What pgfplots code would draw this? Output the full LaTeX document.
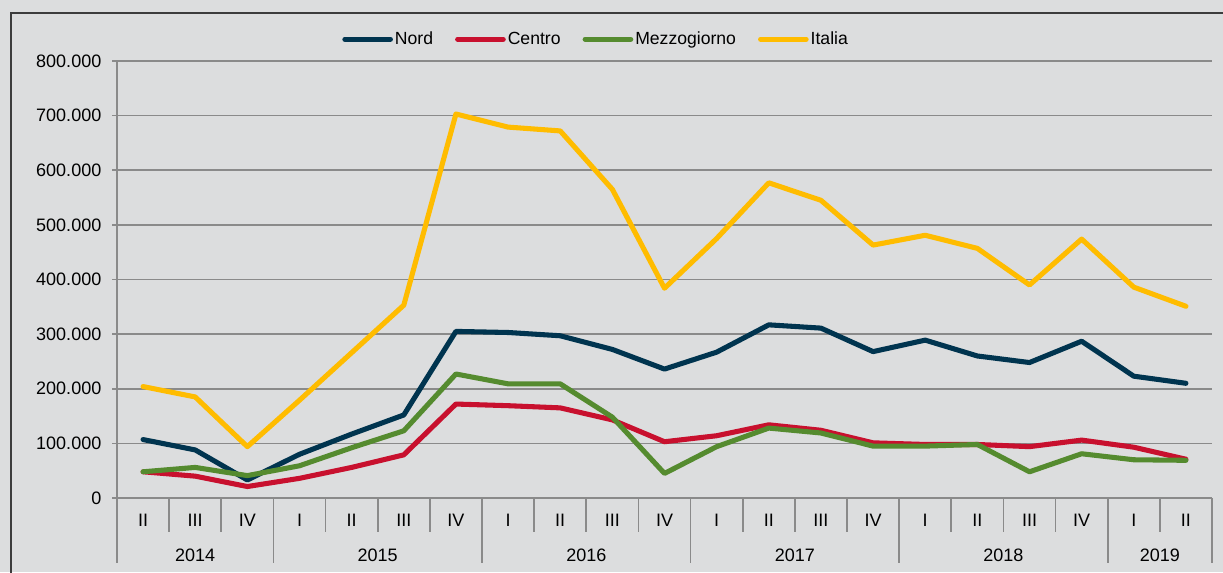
\documentclass[border=0pt]{standalone}
\usepackage{pgfplots}
\pgfplotsset{compat=1.18}
\usepackage{fontspec}
\setmainfont{Liberation Sans}
\definecolor{bg}{HTML}{DCDDDE}
\definecolor{nord}{HTML}{00344F}
\definecolor{centro}{HTML}{C8102E}
\definecolor{mezzo}{HTML}{558B2F}
\definecolor{italia}{HTML}{FFBC00}
\definecolor{gridc}{HTML}{8A8A8A}
\definecolor{framec}{HTML}{3C3C3C}
\begin{document}
\begin{tikzpicture}
\fill[bg] (0,0) rectangle (917.25pt,429pt);
\useasboundingbox (0,0) rectangle (917.25pt,429pt);
\begin{scope}[x=0.75pt,y=-0.75pt,yshift=429pt]
  \draw[framec, line width=1.2pt] (11,590) -- (11,13) -- (1240,13);
  \foreach \k in {0,...,21} \draw[gridc, line width=1.3pt] ({117+1095/21*\k},498) -- ++(0,34);
  \foreach \k in {0,3,7,11,15,19,21} \draw[gridc, line width=1.3pt] ({117+1095/21*\k},498) -- ++(0,65);
\end{scope}
\begin{axis}[
  at={(87.75pt,55.5pt)}, anchor=south west,
  scale only axis, width=821.25pt, height=327.75pt,
  xmin=-0.5, xmax=20.5, ymin=0, ymax=800000,
  axis x line*=bottom, axis y line*=left,
  axis line style={gridc, line width=1.4pt, -},
  xtick={0,...,20},
  xticklabels={II,III,IV,I,II,III,IV,I,II,III,IV,I,II,III,IV,I,II,III,IV,I,II},
  x tick style={draw=none},
  ytick={0,100000,...,800000},
  ymajorgrids, grid style={gridc, line width=1.2pt},
  tick align=outside, major tick length=3.75pt,
  y tick style={gridc, line width=1.2pt},
  scaled y ticks=false,
  yticklabel style={/pgf/number format/fixed, /pgf/number format/precision=0, /pgf/number format/1000 sep={.}, xshift=-4.5pt},
  /pgf/number format/assume math mode=true,
  tick label style={font=\fontsize{13.5}{16}\selectfont, black},
  xticklabel style={anchor=center, yshift=-13.2pt},
  clip=false,
  legend style={draw=none, fill=none, at={(0.2055,1.0499)}, anchor=west,
    font=\fontsize{13.2}{16}\selectfont, inner sep=0pt,
    /tikz/every even column/.append style={column sep=15pt},
    nodes={inner sep=1.5pt}},
  legend columns=4,
  legend image code/.code={\draw[#1, line cap=round, line width=4pt] (2pt,0pt) -- (36pt,0pt);},
  every axis plot/.append style={line width=3.8pt, line join=round, line cap=round},
]
\addplot[nord] coordinates {
(0,107000) (1,88000) (2,33000) (3,80000) (4,117000) (5,152000) (6,305000)
(7,303000) (8,297000) (9,272000) (10,236000) (11,267000) (12,317000) (13,311000)
(14,268000) (15,289000) (16,260000) (17,248000) (18,287000) (19,223000) (20,210000)};
\addlegendentry{Nord}
\addplot[centro] coordinates {
(0,48000) (1,40000) (2,21000) (3,36000) (4,56000) (5,79000) (6,172000)
(7,169000) (8,165000) (9,143000) (10,103000) (11,114000) (12,134000) (13,124000)
(14,101000) (15,98000) (16,98000) (17,94000) (18,106000) (19,93000) (20,71000)};
\addlegendentry{Centro}
\addplot[mezzo] coordinates {
(0,48000) (1,56000) (2,41000) (3,59000) (4,92000) (5,123000) (6,227000)
(7,209000) (8,209000) (9,148000) (10,45000) (11,94000) (12,128000) (13,119000)
(14,95000) (15,95000) (16,98000) (17,48000) (18,81000) (19,70000) (20,69000)};
\addlegendentry{Mezzogiorno}
\addplot[italia] coordinates {
(0,204000) (1,185000) (2,94000) (3,179000) (4,266000) (5,353000) (6,703000)
(7,679000) (8,672000) (9,565000) (10,384000) (11,475000) (12,577000) (13,545000)
(14,463000) (15,481000) (16,457000) (17,390000) (18,474000) (19,386000) (20,351000)};
\addlegendentry{Italia}
\foreach \yr/\xc in {2014/1,2015/4.5,2016/8.5,2017/12.5,2018/16.5,2019/19.5}{
  \edef\tmp{\noexpand\node[font=\noexpand\fontsize{13.5}{16}\noexpand\selectfont, anchor=center, yshift=-42.75pt] at (axis cs:\xc,0) {\yr};}\tmp
}
\end{axis}
\end{tikzpicture}
\end{document}
